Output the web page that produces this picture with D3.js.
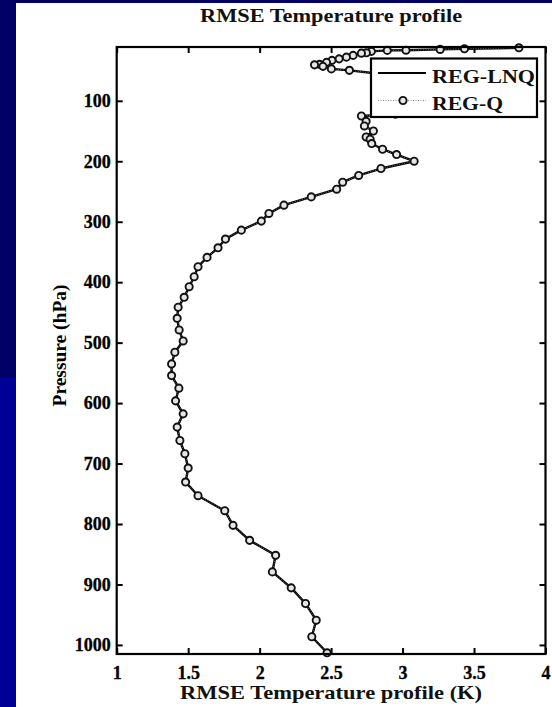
<!DOCTYPE html>
<html><head><meta charset="utf-8">
<script src="https://cdn.jsdelivr.net/npm/d3@7"></script>
<style>html,body{margin:0;padding:0;background:#fff;overflow:hidden}svg{display:block}</style>
</head><body>
<script>
// ---- data ----
const pressure = [12.3,14.0,15.0,16.3,16.6,18.2,20.6,21.2,24.9,27.8,30.6,33.1,36.4,39.7,40.5,43.0,47.2,49.6,
  57,85,122,
  125.1,133.9,141.6,149.9,159.8,163.6,170.7,180.1,188.9,199.9,212,223.5,234.6,246.2,258.9,272.6,286.3,299,
  313.9,328.7,343.1,359,374.5,391,407.5,425,441.5,459.7,479,497.2,515.9,535.2,554.5,575.3,596.3,617.8,639.7,
  661.9,683.8,707.4,730.6,753.2,778,802.2,827,851.8,879.2,905.6,931.5,959.1,986.5,1013];
const regLNQ = [3.814,3.433,3.263,3.024,2.893,2.782,2.747,2.712,2.654,2.607,2.556,2.506,2.468,2.419,2.384,2.443,2.502,2.628,
  2.90,3.05,2.95,
  2.712,2.745,2.733,2.796,2.745,2.773,2.784,2.860,2.958,3.081,2.849,2.693,2.581,2.539,2.361,2.170,2.065,2.012,
  1.872,1.761,1.709,1.632,1.569,1.542,1.507,1.472,1.430,1.423,1.437,1.465,1.407,1.384,1.384,1.435,1.412,1.465,1.423,
  1.442,1.477,1.500,1.482,1.569,1.756,1.814,1.930,2.112,2.089,2.221,2.321,2.396,2.365,2.472];
const regQ = [3.814,3.433,3.263,3.024,2.893,2.782,2.747,2.712,2.654,2.607,2.556,2.506,2.468,2.419,2.384,2.443,2.502,2.628,
  2.90,3.05,2.95,
  2.712,2.745,2.733,2.796,2.745,2.773,2.784,2.860,2.958,3.081,2.849,2.693,2.581,2.539,2.361,2.170,2.065,2.012,
  1.872,1.761,1.709,1.632,1.569,1.542,1.507,1.472,1.430,1.423,1.437,1.465,1.407,1.384,1.384,1.435,1.412,1.465,1.423,
  1.442,1.477,1.500,1.482,1.569,1.756,1.814,1.930,2.112,2.089,2.221,2.321,2.396,2.365,2.472];
const seriesNames = ["REG-LNQ","REG-Q"];
const xTicks = [1,1.5,2,2.5,3,3.5,4];
const xTickLabels = ["1","1.5","2","2.5","3","3.5","4"];
const yTicks = [100,200,300,400,500,600,700,800,900,1000];
const title = "RMSE Temperature profile";
const xTitle = "RMSE Temperature profile (K)";
const yTitle = "Pressure (hPa)";

// ---- drawing ----
const W = 552, H = 707;
const L = 116.7, R = 545.5, T = 47, B = 654;
const svg = d3.select("body").append("svg").attr("width", W).attr("height", H);
svg.append("rect").attr("width", W).attr("height", H).attr("fill", "#ffffff");
svg.append("rect").attr("x",0).attr("y",0).attr("width",W).attr("height",3).attr("fill","#000066");
svg.append("rect").attr("x",0).attr("y",0).attr("width",16).attr("height",378).attr("fill","#000066");
svg.append("rect").attr("x",0).attr("y",378).attr("width",16).attr("height",H-378).attr("fill","#000096");

const x = d3.scaleLinear().domain([1,4]).range([L,R]);
const y = d3.scaleLinear().domain([11,1015]).range([T,B]);
const font = "'Liberation Serif','Times New Roman',serif";

// axes
const gL = svg.append("g").attr("transform",`translate(${L},0)`)
  .call(d3.axisLeft(y).tickValues(yTicks).tickSize(-6).tickPadding(6).tickFormat(d3.format("d")));
const gR = svg.append("g").attr("transform",`translate(${R},0)`)
  .call(d3.axisRight(y).tickValues(yTicks).tickSize(-6).tickFormat(""));
const gB = svg.append("g").attr("transform",`translate(0,${B})`)
  .call(d3.axisBottom(x).tickValues(xTicks).tickSize(-6).tickPadding(12).tickFormat((d,i)=>xTickLabels[i]));
const gT = svg.append("g").attr("transform",`translate(0,${T})`)
  .call(d3.axisTop(x).tickValues(xTicks).tickSize(-6).tickFormat(""));
[gL,gR,gB,gT].forEach(g=>{
  g.select(".domain").remove();
  g.selectAll(".tick line").attr("stroke","#000").attr("stroke-width",2);
  g.selectAll(".tick text").attr("fill","#000").attr("font-family",font)
    .attr("font-weight","bold").attr("font-size",18).attr("stroke","#000").attr("stroke-width",0.3);
});
gB.selectAll(".tick text").attr("dy","0.71em");

// series
const pts = pressure.map((p,i)=>({p, a:regLNQ[i], b:regQ[i]}));
const plot = svg.append("g");
plot.append("path").datum(pts)
  .attr("d", d3.line().x(d=>x(d.a)).y(d=>y(d.p)))
  .attr("fill","none").attr("stroke","#000").attr("stroke-width",2.4).attr("stroke-linejoin","round");
plot.append("path").datum(pts)
  .attr("d", d3.line().x(d=>x(d.b)).y(d=>y(d.p)))
  .attr("fill","none").attr("stroke","#777").attr("stroke-width",1).attr("stroke-dasharray","1,1.5");
plot.selectAll("circle.m").data(pts).join("circle").attr("class","m")
  .attr("cx",d=>x(d.b)).attr("cy",d=>y(d.p)).attr("r",3.6)
  .attr("fill","#e6e6e6").attr("stroke","#111").attr("stroke-width",1.9);

// frame
svg.append("rect").attr("x",L).attr("y",T).attr("width",R-L).attr("height",B-T)
  .attr("fill","none").attr("stroke","#000").attr("stroke-width",2.2);

// legend
const lg = svg.append("g");
lg.append("rect").attr("x",371).attr("y",58.5).attr("width",166).attr("height",58.5)
  .attr("fill","#fff").attr("stroke","#000").attr("stroke-width",2.2);
lg.append("line").attr("x1",378).attr("x2",426).attr("y1",73).attr("y2",73)
  .attr("stroke","#000").attr("stroke-width",2.2);
lg.append("line").attr("x1",378).attr("x2",426).attr("y1",100.5).attr("y2",100.5)
  .attr("stroke","#888").attr("stroke-width",1.2).attr("stroke-dasharray","1,1.5");
lg.append("circle").attr("cx",403).attr("cy",100.5).attr("r",3.6)
  .attr("fill","#e6e6e6").attr("stroke","#111").attr("stroke-width",1.9);
lg.append("text").attr("x",432).attr("y",83).text(seriesNames[0])
  .attr("font-family",font).attr("font-weight","bold").attr("font-size",19)
  .attr("textLength",103).attr("lengthAdjust","spacingAndGlyphs").attr("fill","#111");
lg.append("text").attr("x",432).attr("y",110).text(seriesNames[1])
  .attr("font-family",font).attr("font-weight","bold").attr("font-size",19)
  .attr("textLength",71).attr("lengthAdjust","spacingAndGlyphs").attr("fill","#111");

// titles
svg.append("text").attr("x",(L+R)/2).attr("y",22).attr("text-anchor","middle").text(title)
  .attr("font-family",font).attr("font-weight","bold").attr("font-size",18)
  .attr("textLength",262).attr("lengthAdjust","spacingAndGlyphs").attr("fill","#111");
svg.append("text").attr("x",(L+R)/2).attr("y",699).attr("text-anchor","middle").text(xTitle)
  .attr("font-family",font).attr("font-weight","bold").attr("font-size",19)
  .attr("textLength",302).attr("lengthAdjust","spacingAndGlyphs").attr("fill","#111");
svg.append("text").attr("transform",`translate(66,${(T+B)/2 - 5}) rotate(-90)`)
  .attr("text-anchor","middle").text(yTitle)
  .attr("font-family",font).attr("font-size",18).attr("font-weight","bold")
  .attr("textLength",122).attr("lengthAdjust","spacingAndGlyphs").attr("fill","#000");
</script>
</body></html>
